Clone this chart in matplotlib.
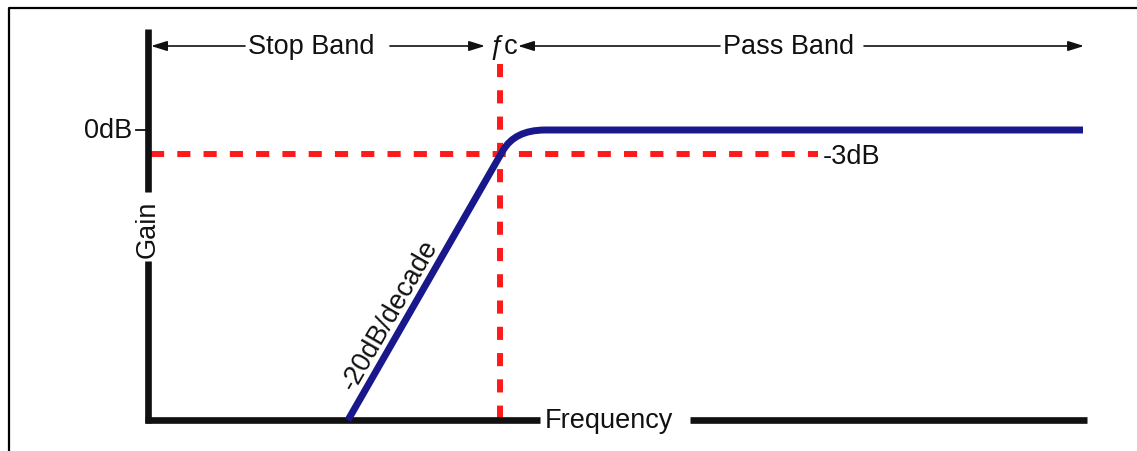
import matplotlib.pyplot as plt
from matplotlib.path import Path
from matplotlib.patches import PathPatch

plt.rcParams['font.family'] = ['Liberation Sans', 'DejaVu Sans']

# x axis: decades relative to fc, y axis: gain in dB
resp_dec = [-1.652, 0.03, 0.16, 0.489, 6.337]
resp_db = [-36.25, -2.6, 0.0, 0.0, 0.0]
cutoff_db = -3
fc_dec = 0.0

axis_bottom = -36.25
axis_top = 12.6
axis_left = -3.826
axis_right = 6.38

navy = '#18188c'
red = '#ff1a1a'
ink = '#111111'
fs = 19.5

fig = plt.figure(figsize=(11.37, 4.52), dpi=100)
ax = fig.add_axes([0, 0, 1, 1])
ax.set_xlim(-5.435, 6.924)
ax.set_ylim(-40.125, 16.375)
ax.axis('off')

# outer frame (only left and top show)
ax.plot([-5.337, -5.337, 7.5], [-45, 15.25, 15.25], color='black', lw=1.6)

# red dashed guide lines
ax.plot([-3.79, 3.457], [cutoff_db, cutoff_db], color=red, lw=4.3,
        dashes=(2.2, 2.2))
ax.plot([fc_dec, fc_dec], [8.25, axis_bottom], color=red, lw=4.3,
        dashes=(2.2, 2.2))

# response curve with rounded knee
codes = [Path.MOVETO, Path.LINETO, Path.CURVE3, Path.CURVE3, Path.LINETO]
curve = Path(list(zip(resp_dec, resp_db)), codes)
ax.add_patch(PathPatch(curve, fill=False, edgecolor=navy, lw=5.0,
                       capstyle='butt', zorder=4))

# axes lines with gaps for labels
ax.plot([axis_left, axis_left], [axis_top, -7.75], color='#111111', lw=4.8,
        solid_capstyle='butt')
ax.plot([axis_left, axis_left], [-16.375, axis_bottom - 0.4], color='#111111',
        lw=4.8, solid_capstyle='butt')
ax.plot([-3.859, 0.435], [axis_bottom, axis_bottom], color='#111111', lw=4.8,
        solid_capstyle='butt')
ax.plot([2.065, axis_right], [axis_bottom, axis_bottom], color='#111111',
        lw=4.8, solid_capstyle='butt')

# 0dB tick
ax.plot([-3.957, axis_left], [0, 0], color=ink, lw=1.3)
ax.text(-4.0, 0, '0dB', ha='right', va='center', fontsize=fs, color=ink)
ax.text(3.51, cutoff_db - 0.3, '-3dB', ha='left', va='center', fontsize=fs,
        color=ink)
ax.text(axis_left, -12.25, 'Gain', rotation=90, ha='center', va='center',
        fontsize=fs, color=ink)
ax.text(1.185, axis_bottom, 'Frequency', ha='center', va='center',
        fontsize=fs, color=ink)
ax.text(-1.2, -23.0, '-20dB/decade', rotation=60.1, rotation_mode='anchor',
        ha='center', va='center', fontsize=fs, color=ink)

# band arrows along the top
band_y = 10.5
ax.text(-2.049, band_y, 'Stop Band', ha='center', va='center', fontsize=fs,
        color=ink)
ax.text(3.141, band_y, 'Pass Band', ha='center', va='center', fontsize=fs,
        color=ink)
ax.text(0.043, band_y, 'ƒc', ha='center', va='center', fontsize=fs,
        color=ink)

arrows = [(-2.772, -3.793), (-1.196, -0.163), (2.391, 0.196), (3.957, 6.348)]
for start, end in arrows:
    ax.annotate('', xy=(end, band_y), xytext=(start, band_y),
                arrowprops=dict(arrowstyle='-|>,head_length=0.8,head_width=0.25',
                                mutation_scale=12, lw=1.2, color=ink,
                                shrinkA=0, shrinkB=0))

fig.savefig('out.png', dpi=100)
